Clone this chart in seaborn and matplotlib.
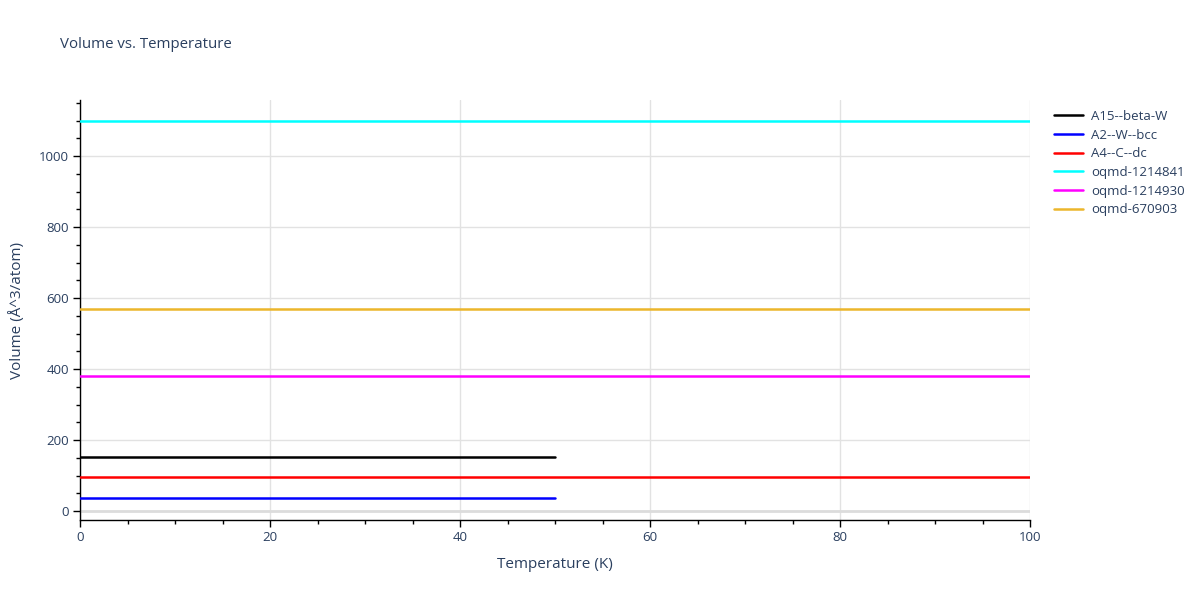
"""Volume vs. temperature lines for several structures."""

import matplotlib

matplotlib.use("Agg")
import matplotlib.pyplot as plt
import pandas as pd
import seaborn as sns
from matplotlib.ticker import MultipleLocator

# Data
temps_short = [0, 10, 20, 30, 40, 50]
temps_long = [0, 10, 20, 30, 40, 50, 60, 70, 80, 90, 100]

vol_a15_beta_w = [152, 152, 152, 152, 152, 152]
vol_a2_w_bcc = [37, 37, 37, 37, 37, 37]
vol_a4_c_dc = [96, 96, 96, 96, 96, 96, 96, 96, 96, 96, 96]
vol_oqmd_1214841 = [1099, 1099, 1099, 1099, 1099, 1099, 1099, 1099, 1099, 1099, 1099]
vol_oqmd_1214930 = [381, 381, 381, 381, 381, 381, 381, 381, 381, 381, 381]
vol_oqmd_670903 = [569, 569, 569, 569, 569, 569, 569, 569, 569, 569, 569]

series = [
    ("A15--beta-W", temps_short, vol_a15_beta_w),
    ("A2--W--bcc", temps_short, vol_a2_w_bcc),
    ("A4--C--dc", temps_long, vol_a4_c_dc),
    ("oqmd-1214841", temps_long, vol_oqmd_1214841),
    ("oqmd-1214930", temps_long, vol_oqmd_1214930),
    ("oqmd-670903", temps_long, vol_oqmd_670903),
]
palette = {
    "A15--beta-W": "#000000",
    "A2--W--bcc": "#0000ff",
    "A4--C--dc": "#ff0000",
    "oqmd-1214841": "#00ffff",
    "oqmd-1214930": "#ff00ff",
    "oqmd-670903": "#ecb62c",
}

rows = []
for name, ts, vs in series:
    for t, v in zip(ts, vs):
        rows.append({"Temperature": t, "Volume": v, "phase": name})
df = pd.DataFrame(rows)

sns.set_style("white")
plt.rcParams["font.family"] = ["Open Sans", "DejaVu Sans"]
text_color = "#2a3f5f"

fig = plt.figure(figsize=(12, 6), dpi=100)
ax = fig.add_axes([80 / 1200, 1 - 520 / 600, 950 / 1200, 420 / 600])

# grid and zero line
ax.set_axisbelow(True)
ax.grid(True, color="#e2e2e2", linewidth=1)
ax.axhline(0, color="#dcdcdc", linewidth=2, zorder=1)

sns.lineplot(
    data=df, x="Temperature", y="Volume", hue="phase",
    hue_order=list(palette), palette=palette, linewidth=1.8,
    ax=ax, zorder=3,
)

ax.set_xlim(0, 100)
ax.set_ylim(-25, 1158)
ax.xaxis.set_major_locator(MultipleLocator(20))
ax.xaxis.set_minor_locator(MultipleLocator(5))
ax.yaxis.set_major_locator(MultipleLocator(200))
ax.yaxis.set_minor_locator(MultipleLocator(50))

for side in ("top", "right"):
    ax.spines[side].set_visible(False)
for side in ("left", "bottom"):
    ax.spines[side].set_color("black")
    ax.spines[side].set_linewidth(1)

ax.tick_params(axis="both", which="major", direction="out", length=5,
               width=1, color="black", labelsize=9.5, labelcolor=text_color,
               left=True, bottom=True, pad=3)
ax.tick_params(axis="both", which="minor", direction="out", length=3,
               width=1, color="black", left=True, bottom=True)

ax.set_xlabel("Temperature (K)", fontsize=11, color=text_color, labelpad=9.5)
ax.set_ylabel("Volume (Å^3/atom)", fontsize=11, color=text_color, labelpad=10)

fig.text(60 / 1200, 1 - 45 / 600, "Volume vs. Temperature", fontsize=10.8,
         color=text_color, va="center", ha="left")

leg = ax.legend(loc="upper left", bbox_to_anchor=(1.017, 0.995), frameon=False,
                fontsize=9.5, handlelength=2.2, labelspacing=0.43,
                borderaxespad=0.2, handletextpad=0.6)
for txt in leg.get_texts():
    txt.set_color(text_color)

fig.savefig("out.png", dpi=100)
